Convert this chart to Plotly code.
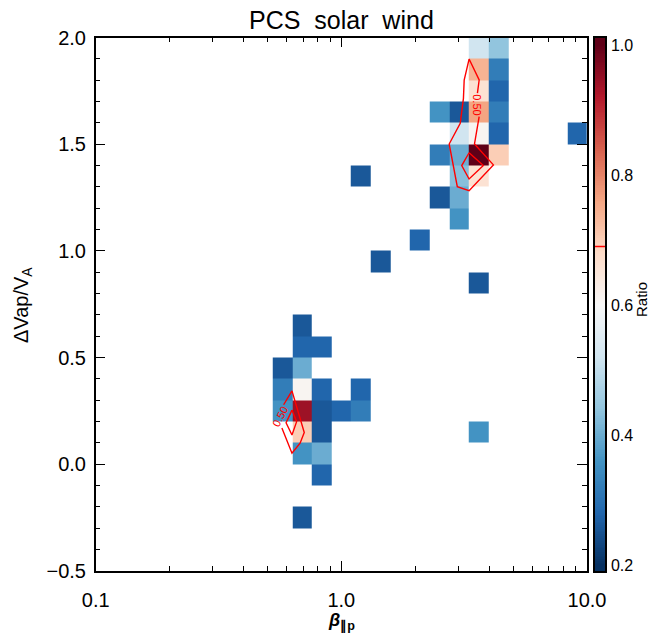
import numpy as np
import plotly.graph_objects as go

# ---------------- data ----------------
title_text = "PCS solar wind"

# bin grid (log10 beta edges, drift edges)
log_beta_edges = np.round(np.arange(-1.0, 1.0001, 0.08), 2)
drift_edges = np.round(np.arange(-0.5, 2.0001, 0.1), 1)

# occupied cells: beta-bin index, lower drift edge, ratio value
cell_beta_bin = [10, 10, 11, 9, 10, 9, 10, 11, 13, 9, 10, 11, 12, 13, 10, 11, 10, 11, 11, 10,
                 13, 14, 16, 19, 19,
                 19, 20, 19, 20, 19, 20, 17, 18, 19, 20, 18, 19, 20, 24, 17, 18, 19, 20,
                 18, 19, 17, 18, 18]
cell_drift_low = [0.6, 0.5, 0.5, 0.4, 0.4, 0.3, 0.3, 0.3, 0.3, 0.2, 0.2, 0.2, 0.2, 0.2, 0.1, 0.1, 0.0, 0.0, -0.1, -0.3,
                  1.3, 0.9, 1.0, 0.8, 0.1,
                  1.9, 1.9, 1.8, 1.8, 1.7, 1.7, 1.6, 1.6, 1.6, 1.6, 1.5, 1.5, 1.5, 1.5, 1.4, 1.4, 1.4, 1.4,
                  1.3, 1.3, 1.2, 1.2, 1.1]
cell_ratio = [0.26, 0.28, 0.28, 0.26, 0.40, 0.32, 0.61, 0.28, 0.28, 0.36, 0.94, 0.26, 0.28, 0.32, 0.70, 0.26, 0.36, 0.40, 0.28, 0.26,
              0.26, 0.26, 0.28, 0.26, 0.36,
              0.52, 0.44, 0.74, 0.32, 0.66, 0.28, 0.36, 0.26, 0.76, 0.32, 0.52, 0.61, 0.28, 0.28, 0.32, 0.40, 1.00, 0.70,
              0.43, 0.66, 0.26, 0.40, 0.36]

# 0.50 contour paths (log10 beta, drift)
low_outer_logb = [-0.242, -0.201, -0.168, -0.151, -0.201, -0.235]
low_outer_drift = [0.170, 0.052, 0.099, 0.149, 0.344, 0.279]
low_inner_logb = [-0.201, -0.182, -0.201, -0.225, -0.201]
low_inner_drift = [0.254, 0.200, 0.137, 0.195, 0.254]
up_outer_logb = [0.561, 0.542, 0.619, 0.520, 0.472, 0.439, 0.484, 0.497, 0.500, 0.520, 0.561, 0.554]
up_outer_drift = [1.629, 1.501, 1.403, 1.282, 1.301, 1.501, 1.598, 1.715, 1.801, 1.899, 1.801, 1.739]
up_inner_logb = [0.520, 0.578, 0.520, 0.490, 0.520]
up_inner_drift = [1.460, 1.400, 1.337, 1.400, 1.460]
contour_label = "0.50"
contour_label_logb = [-0.252, 0.551]
contour_label_drift = [0.224, 1.684]
contour_label_angle = [-63, 90]

x_tick_vals = [0.1, 1.0, 10.0]
x_tick_text = ["0.1", "1.0", "10.0"]
x_minor_vals = [0.2, 0.3, 0.4, 0.5, 0.6, 0.7, 0.8, 0.9, 2, 3, 4, 5, 6, 7, 8, 9]
y_tick_vals = [-0.5, 0.0, 0.5, 1.0, 1.5, 2.0]
y_tick_text = ["\u22120.5", "0.0", "0.5", "1.0", "1.5", "2.0"]
cb_tick_vals = [0.2, 0.4, 0.6, 0.8, 1.0]
cb_tick_text = ["0.2", "0.4", "0.6", "0.8", "1.0"]
cb_marker_level = 0.69
zmin, zmax = 0.2, 1.0

# ---------------- build ----------------
FONT = "Liberation Sans, Arial, Helvetica, sans-serif"
W, H = 651, 635
rdbu_r = [[0.0, "#053061"], [0.1, "#2166ac"], [0.2, "#4393c3"], [0.3, "#92c5de"],
          [0.4, "#d1e5f0"], [0.5, "#f7f7f7"], [0.6, "#fddbc7"], [0.7, "#f4a582"],
          [0.8, "#d6604d"], [0.9, "#b2182b"], [1.0, "#5f0018"]]

nx = len(log_beta_edges) - 1
ny = len(drift_edges) - 1
z = [[None] * nx for _ in range(ny)]
for c, ylo, v in zip(cell_beta_bin, cell_drift_low, cell_ratio):
    r = int(round((ylo - drift_edges[0]) / 0.1))
    z[r][c] = v

fig = go.Figure()
fig.add_trace(go.Heatmap(
    x=(10.0 ** log_beta_edges).tolist(), y=drift_edges.tolist(), z=z,
    colorscale=rdbu_r, zmin=zmin, zmax=zmax, showscale=False,
    hoverinfo="skip", xgap=0, ygap=0))

for lx, ly in [(low_outer_logb, low_outer_drift), (low_inner_logb, low_inner_drift),
               (up_outer_logb, up_outer_drift), (up_inner_logb, up_inner_drift)]:
    fig.add_trace(go.Scatter(
        x=[10.0 ** v for v in lx], y=ly, mode="lines",
        line=dict(color="#ff0000", width=1.4), hoverinfo="skip", showlegend=False))

# colorbar built on its own axis
cb_y = np.linspace(0.191, 1.0115, 300)
fig.add_trace(go.Heatmap(
    x=[0, 1], y=cb_y.tolist(), z=[[v] for v in cb_y],
    colorscale=rdbu_r, zmin=zmin, zmax=zmax, showscale=False,
    hoverinfo="skip", xaxis="x2", yaxis="y2"))
fig.add_trace(go.Scatter(
    x=[0, 1], y=[cb_marker_level, cb_marker_level], mode="lines",
    line=dict(color="#ff0000", width=1.5), hoverinfo="skip", showlegend=False,
    xaxis="x2", yaxis="y2"))

x0p, x1p = 95.7 / W, 587.0 / W
y0p, y1p = 1 - 571.0 / H, 1 - 37.5 / H

axis_common = dict(showline=True, linecolor="black", linewidth=1.5, mirror="ticks",
                   ticks="inside", tickcolor="black", tickwidth=1, ticklen=10,
                   showgrid=False, zeroline=False, automargin=False,
                   tickfont=dict(family=FONT, size=20, color="black"))

fig.update_layout(
    width=W, height=H, margin=dict(l=0, r=0, t=0, b=0, autoexpand=False),
    paper_bgcolor="white", plot_bgcolor="white", showlegend=False,
    xaxis=dict(type="log", range=[-1, 1], domain=[x0p, x1p], anchor="y",
               tickmode="array", tickvals=x_tick_vals, ticktext=x_tick_text,
               ticklabelstandoff=10,
               minor=dict(tickmode="array", tickvals=x_minor_vals, ticks="inside",
                          ticklen=5, tickcolor="black", tickwidth=1, showgrid=False),
               **axis_common),
    yaxis=dict(range=[-0.5, 2.0], domain=[y0p, y1p], anchor="x",
               tickmode="array", tickvals=y_tick_vals, ticktext=y_tick_text,
               ticklabelstandoff=4,
               minor=dict(tick0=0, dtick=0.1, ticks="inside",
                          ticklen=5, tickcolor="black", tickwidth=1, showgrid=False),
               **axis_common),
    xaxis2=dict(domain=[595.0 / W, 605.0 / W], range=[0, 1], anchor="y2",
                showticklabels=False, ticks="", showgrid=False, zeroline=False,
                automargin=False,
                showline=True, linecolor="black", linewidth=1.5, mirror=True),
    yaxis2=dict(domain=[y0p, y1p], range=[0.191, 1.0115], anchor="x2", side="right",
                tickmode="array", tickvals=cb_tick_vals, ticktext=cb_tick_text,
                ticks="", showgrid=False, zeroline=False, ticklabelstandoff=1,
                automargin=False,
                showline=True, linecolor="black", linewidth=1.5, mirror=True,
                tickfont=dict(family=FONT, size=16, color="black")),
)

annotations = [
    dict(text=title_text.replace(" ", "\u00a0 "), x=(x0p + x1p) / 2, y=1 - 20.0 / H,
         xref="paper", yref="paper", showarrow=False,
         font=dict(family=FONT, size=25, color="black"), xanchor="center", yanchor="middle"),
    dict(text="\u0394Vap/V<sub>A</sub>", x=22.0 / W, y=1 - 305.0 / H, xref="paper", yref="paper",
         showarrow=False, textangle=-90, font=dict(family=FONT, size=20, color="black"),
         xanchor="center", yanchor="middle"),
    dict(text="<b><i>\u03b2</i></b><sub><b>\u2225p</b></sub>", x=(x0p + x1p) / 2, y=0.0,
         xref="paper", yref="paper", showarrow=False, borderpad=0,
         font=dict(family=FONT, size=18, color="black"), xanchor="center", yanchor="bottom"),
    dict(text="Ratio", x=641.0 / W, y=1 - 300.0 / H, xref="paper", yref="paper",
         showarrow=False, textangle=-90, font=dict(family=FONT, size=15, color="black"),
         xanchor="center", yanchor="middle"),
]
for lx, ly, ang in zip(contour_label_logb, contour_label_drift, contour_label_angle):
    annotations.append(dict(text=contour_label, x=lx, y=ly, xref="x", yref="y",
                            showarrow=False, textangle=ang,
                            font=dict(family=FONT, size=11, color="#ff0000"),
                            xanchor="center", yanchor="middle"))
fig.update_layout(annotations=annotations)

fig.write_html("out.html")
